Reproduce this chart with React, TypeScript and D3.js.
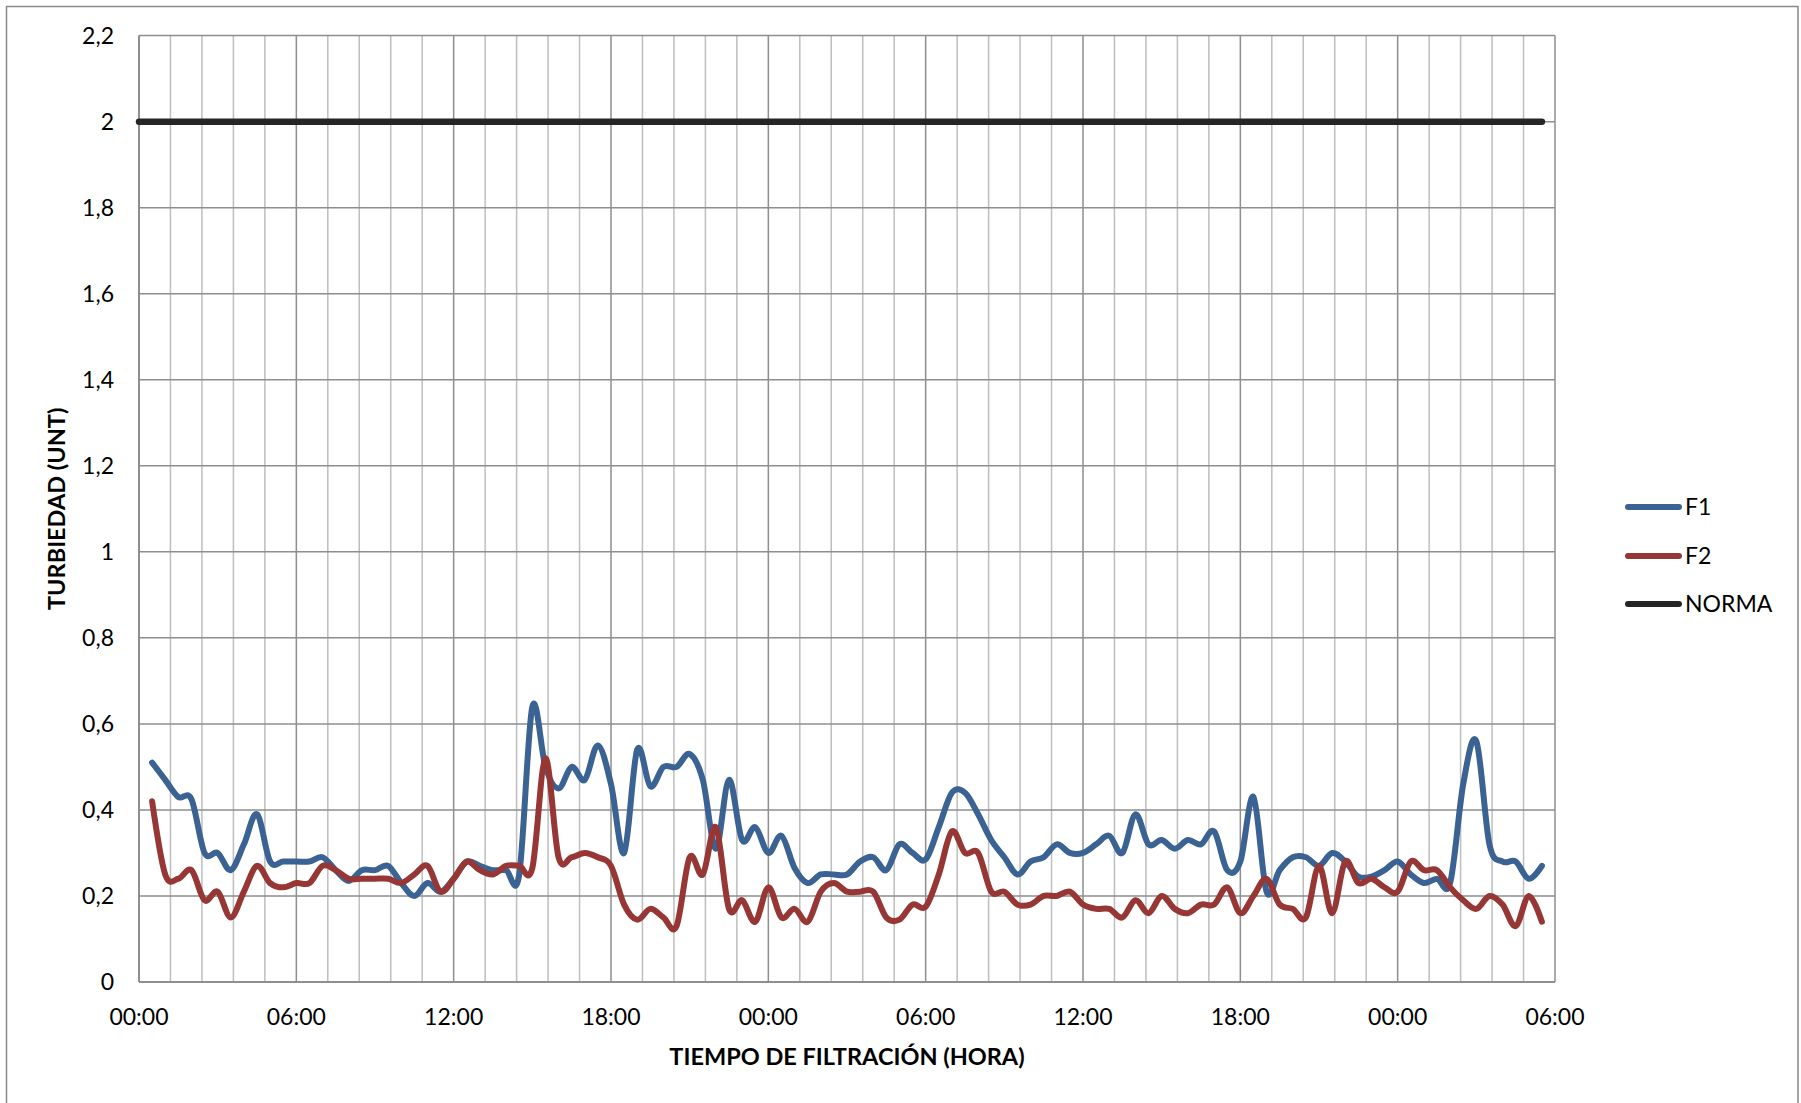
import React from 'react';
import * as d3 from 'd3';

const HOURS = [
  0.5, 1, 1.5, 2, 2.5, 3, 3.5, 4, 4.5, 5, 5.5, 6, 6.5, 7, 7.5, 8, 8.5, 9, 9.5, 10,
  10.5, 11, 11.5, 12, 12.5, 13, 13.5, 14, 14.5, 15, 15.5, 16, 16.5, 17, 17.5, 18, 18.5, 19, 19.5, 20,
  20.5, 21, 21.5, 22, 22.5, 23, 23.5, 24, 24.5, 25, 25.5, 26, 26.5, 27, 27.5, 28, 28.5, 29, 29.5, 30,
  30.5, 31, 31.5, 32, 32.5, 33, 33.5, 34, 34.5, 35, 35.5, 36, 36.5, 37, 37.5, 38, 38.5, 39, 39.5, 40,
  40.5, 41, 41.5, 42, 42.5, 43, 43.5, 44, 44.5, 45, 45.5, 46, 46.5, 47, 47.5, 48, 48.5, 49, 49.5, 50,
  50.5, 51, 51.5, 52, 52.5, 53, 53.5,
];

const F1 = [
  0.51, 0.47, 0.43, 0.425, 0.30, 0.30, 0.26, 0.32, 0.39, 0.28, 0.28, 0.28, 0.28, 0.29, 0.26, 0.235, 0.26, 0.26, 0.27, 0.23,
  0.20, 0.23, 0.21, 0.24, 0.28, 0.27, 0.26, 0.26, 0.25, 0.64, 0.50, 0.45, 0.50, 0.47, 0.55, 0.46, 0.30, 0.54, 0.455, 0.50,
  0.50, 0.53, 0.47, 0.31, 0.47, 0.33, 0.36, 0.30, 0.34, 0.265, 0.23, 0.25, 0.25, 0.25, 0.28, 0.29, 0.26, 0.32, 0.30, 0.285,
  0.36, 0.44, 0.44, 0.39, 0.33, 0.29, 0.25, 0.28, 0.29, 0.32, 0.30, 0.30, 0.32, 0.34, 0.30, 0.39, 0.32, 0.33, 0.31, 0.33,
  0.32, 0.35, 0.26, 0.28, 0.43, 0.21, 0.26, 0.29, 0.29, 0.27, 0.30, 0.28, 0.245, 0.245, 0.26, 0.28, 0.25, 0.23, 0.24, 0.23,
  0.46, 0.56, 0.32, 0.28, 0.28, 0.24, 0.27,
];

const F2 = [
  0.42, 0.25, 0.24, 0.26, 0.19, 0.21, 0.15, 0.21, 0.27, 0.23, 0.22, 0.23, 0.23, 0.27, 0.26, 0.24, 0.24, 0.24, 0.24, 0.23,
  0.25, 0.27, 0.21, 0.24, 0.28, 0.26, 0.25, 0.27, 0.27, 0.265, 0.52, 0.29, 0.29, 0.30, 0.29, 0.27, 0.18, 0.145, 0.17, 0.15,
  0.13, 0.29, 0.25, 0.36, 0.17, 0.19, 0.14, 0.22, 0.15, 0.17, 0.14, 0.21, 0.23, 0.21, 0.21, 0.21, 0.15, 0.145, 0.18, 0.175,
  0.25, 0.35, 0.30, 0.30, 0.21, 0.21, 0.18, 0.18, 0.20, 0.20, 0.21, 0.18, 0.17, 0.17, 0.15, 0.19, 0.16, 0.20, 0.17, 0.16,
  0.18, 0.18, 0.22, 0.16, 0.20, 0.24, 0.18, 0.17, 0.15, 0.27, 0.16, 0.28, 0.23, 0.24, 0.22, 0.21, 0.28, 0.26, 0.26, 0.22,
  0.19, 0.17, 0.20, 0.18, 0.13, 0.20, 0.14,
];

const NORMA_HOURS = [0, 53.5];
const NORMA = [2, 2];

const X_TICKS = [0, 6, 12, 18, 24, 30, 36, 42, 48, 54];
const X_TICK_LABELS = ['00:00', '06:00', '12:00', '18:00', '00:00', '06:00', '12:00', '18:00', '00:00', '06:00'];
const Y_TICKS = [0, 0.2, 0.4, 0.6, 0.8, 1, 1.2, 1.4, 1.6, 1.8, 2, 2.2];
const Y_TICK_LABELS = ['0', '0,2', '0,4', '0,6', '0,8', '1', '1,2', '1,4', '1,6', '1,8', '2', '2,2'];

const SERIES = [
  { name: 'F1', color: '#3A6293', values: F1, hours: HOURS },
  { name: 'F2', color: '#973735', values: F2, hours: HOURS },
];
const LEGEND = [
  { name: 'F1', color: '#3A6293' },
  { name: 'F2', color: '#973735' },
  { name: 'NORMA', color: '#262626' },
];

const FONT = 'Lato, Carlito, Calibri, sans-serif';

export default function App() {
  const W = 1801;
  const H = 1103;
  const left = 139;
  const right = 1555;
  const top = 35.6;
  const bottom = 982;

  const x = d3.scaleLinear().domain([0, 54]).range([left, right]);
  const y = d3.scaleLinear().domain([0, 2.2]).range([bottom, top]);

  const minorTicks = d3.range(0, 54.001, 1.2).filter((t) => Math.abs(t / 6 - Math.round(t / 6)) > 1e-6);

  const line = d3
    .line<[number, number]>()
    .x((d) => x(d[0]))
    .y((d) => y(d[1]))
    .curve(d3.curveCardinal.tension(0));

  const normaPath = d3
    .line<[number, number]>()
    .x((d) => x(d[0]))
    .y((d) => y(d[1]))(NORMA_HOURS.map((h, i) => [h, NORMA[i]] as [number, number]));

  return (
    <svg
      width={W}
      height={H}
      style={{ position: 'absolute', left: 0, top: 0, background: '#fff' }}
      fontFamily={FONT}
    >
      <rect x={0} y={0} width={W} height={H} fill="#fff" />
      <rect x={6.5} y={6.5} width={1791.5} height={1200} fill="#fff" stroke="#898989" strokeWidth={1.5} />

      {minorTicks.map((t, i) => (
        <line key={'mi' + i} x1={x(t)} x2={x(t)} y1={top} y2={bottom} stroke="#BEBEBE" strokeWidth={1.5} />
      ))}
      {X_TICKS.map((t, i) => (
        <line key={'ma' + i} x1={x(t)} x2={x(t)} y1={top} y2={bottom} stroke="#8E8E8E" strokeWidth={1.5} />
      ))}
      {Y_TICKS.map((t, i) => (
        <line key={'hy' + i} x1={left} x2={right} y1={y(t)} y2={y(t)} stroke="#8E8E8E" strokeWidth={1.5} />
      ))}

      <line x1={left} x2={left} y1={top} y2={bottom} stroke="#868686" strokeWidth={1.5} />
      <line x1={left} x2={right} y1={bottom} y2={bottom} stroke="#868686" strokeWidth={1.5} />

      <path d={normaPath || ''} fill="none" stroke="#262626" strokeWidth={6.5} strokeLinecap="round" />

      {SERIES.map((s) => (
        <path
          key={s.name}
          d={line(s.hours.map((h, i) => [h, s.values[i]] as [number, number])) || ''}
          fill="none"
          stroke={s.color}
          strokeWidth={6}
          strokeLinejoin="round"
          strokeLinecap="round"
        />
      ))}

      {Y_TICKS.map((t, i) => (
        <text key={'yl' + i} x={114} y={y(t)} dy="0.35em" textAnchor="end" fontSize={23} fill="#000">
          {Y_TICK_LABELS[i]}
        </text>
      ))}
      {X_TICKS.map((t, i) => (
        <text key={'xl' + i} x={x(t)} y={1017} dy="0.35em" textAnchor="middle" fontSize={23} fill="#000">
          {X_TICK_LABELS[i]}
        </text>
      ))}

      <text x={(left + right) / 2} y={1057} dy="0.35em" textAnchor="middle" fontSize={23.5} fontWeight="bold" fill="#000">
        TIEMPO DE FILTRACIÓN (HORA)
      </text>
      <text
        transform={`translate(57,${(top + bottom) / 2}) rotate(-90)`}
        textAnchor="middle"
        dy="0.35em"
        fontSize={23.5}
        fontWeight="bold"
        fill="#000"
      >
        TURBIEDAD (UNT)
      </text>

      {LEGEND.map((l, i) => {
        const ly = [507, 556, 604][i];
        return (
          <g key={'lg' + i}>
            <line x1={1628} x2={1679} y1={ly} y2={ly} stroke={l.color} strokeWidth={6} strokeLinecap="round" />
            <text x={1685} y={ly} dy="0.35em" fontSize={23} fill="#000">
              {l.name}
            </text>
          </g>
        );
      })}
    </svg>
  );
}
